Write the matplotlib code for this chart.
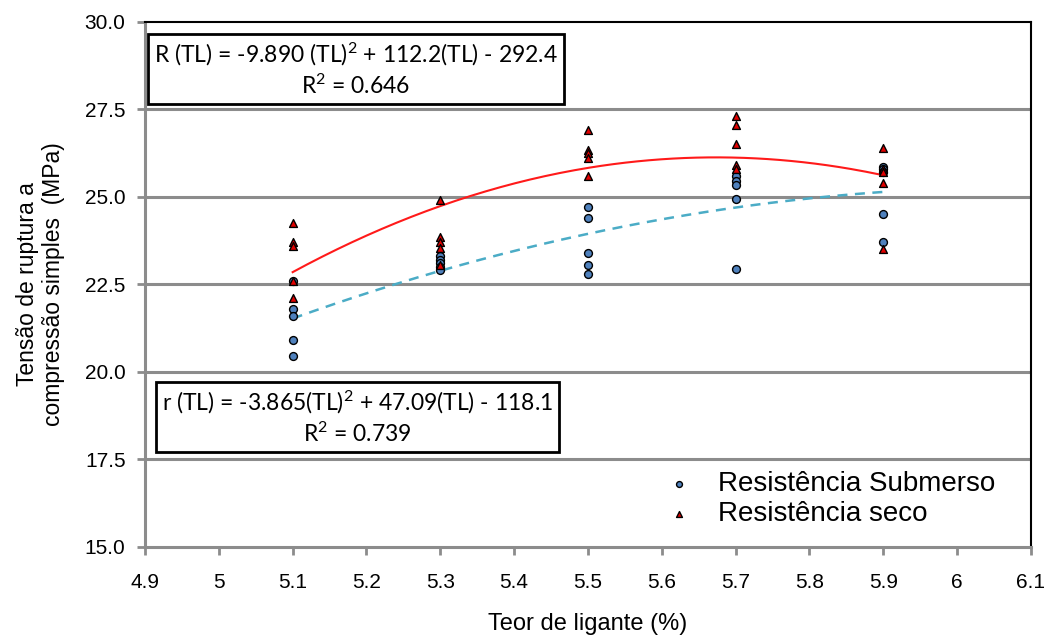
import numpy as np
import matplotlib
matplotlib.use("Agg")
import matplotlib.pyplot as plt

plt.rcParams['font.family'] = ['Liberation Sans', 'DejaVu Sans']
plt.rcParams['mathtext.fontset'] = 'custom'
plt.rcParams['mathtext.rm'] = 'Lato'
plt.rcParams['mathtext.it'] = 'Lato:italic'
plt.rcParams['mathtext.bf'] = 'Lato:bold'

# Data: binder content (%) and strength (MPa)
tl_sub = [5.1]*5 + [5.3]*5 + [5.5]*5 + [5.7]*5 + [5.9]*5
r_sub = [22.6, 21.8, 21.6, 20.9, 20.45,
         23.3, 23.2, 23.1, 23.0, 22.9,
         24.7, 24.4, 23.4, 23.05, 22.8,
         25.6, 25.45, 25.35, 24.95, 22.95,
         25.85, 25.8, 25.7, 24.5, 23.7]
tl_seco = [5.1]*5 + [5.3]*5 + [5.5]*5 + [5.7]*5 + [5.9]*5
r_seco = [24.25, 23.7, 23.6, 22.6, 22.1,
          24.9, 23.85, 23.7, 23.55, 23.05,
          26.9, 26.35, 26.25, 26.1, 25.6,
          27.3, 27.05, 26.5, 25.9, 25.8,
          26.4, 25.8, 25.7, 25.4, 23.5]

xticks = [4.9, 5.0, 5.1, 5.2, 5.3, 5.4, 5.5, 5.6, 5.7, 5.8, 5.9, 6.0, 6.1]
xticklabels = ['4.9', '5', '5.1', '5.2', '5.3', '5.4', '5.5', '5.6', '5.7', '5.8', '5.9', '6', '6.1']
yticks = [15.0, 17.5, 20.0, 22.5, 25.0, 27.5, 30.0]

eq_seco = "R (TL) = -9.890 (TL)$^{\\mathrm{2}}$ + 112.2(TL) - 292.4\nR$^{\\mathrm{2}}$ = 0.646"
eq_sub = "r (TL) = -3.865(TL)$^{\\mathrm{2}}$ + 47.09(TL) - 118.1\nR$^{\\mathrm{2}}$ = 0.739"

fig = plt.figure(figsize=(10.44, 6.37), dpi=100)
ax = fig.add_axes([0.1389, 0.1413, 0.8486, 0.8242])

grid_c = '#8c8c8c'
for y in yticks[1:-1]:
    ax.axhline(y, color=grid_c, lw=2.2, zorder=1)

# trendlines (quadratic fits)
xs = np.linspace(5.1, 5.9, 200)
p_seco = np.polyfit(tl_seco, r_seco, 2)
p_sub = np.polyfit(tl_sub, r_sub, 2)
ax.plot(xs, np.polyval(p_seco, xs), color='#ff1a1a', lw=1.5, zorder=2)
ax.plot(xs, np.polyval(p_sub, xs), color='#4bacc6', lw=1.8, ls=(0, (4, 3)), zorder=2)

ax.scatter(tl_sub, r_sub, s=32, marker='o', facecolor='#4f81bd', edgecolor='black',
           linewidth=1.0, zorder=3, label='Resistência Submerso')
ax.scatter(tl_seco, r_seco, s=32, marker='^', facecolor='#e00000', edgecolor='black',
           linewidth=1.0, zorder=4, label='Resistência seco')

ax.set_xlim(4.9, 6.1)
ax.set_ylim(15, 30)
ax.set_xticks(xticks)
ax.set_xticklabels(xticklabels, fontsize=15)
ax.set_yticks(yticks)
ax.set_yticklabels([f'{v:.1f}' for v in yticks], fontsize=15)
ax.tick_params(axis='both', color=grid_c, width=2, length=6, direction='out')
ax.tick_params(axis='x', pad=13)
ax.tick_params(axis='y', pad=8)

for s in ['left', 'bottom']:
    ax.spines[s].set_color(grid_c)
    ax.spines[s].set_linewidth(2.2)
for s in ['top', 'right']:
    ax.spines[s].set_color('black')
    ax.spines[s].set_linewidth(1.5)

ax.set_xlabel('Teor de ligante (%)', fontsize=17, labelpad=15)
ax.set_ylabel('Tensão de ruptura a\ncompressão simples  (MPa)', fontsize=16.5, labelpad=14)

box = dict(boxstyle='square,pad=0.25', facecolor='white', edgecolor='black', lw=2)
ax.text(0.238, 0.9095, eq_seco, transform=ax.transAxes, ha='center', va='center',
        fontsize=16.5, family=['Lato', 'DejaVu Sans'], bbox=box, linespacing=1.3, zorder=5)
ax.text(0.240, 0.2467, eq_sub, transform=ax.transAxes, ha='center', va='center',
        fontsize=16.5, family=['Lato', 'DejaVu Sans'], bbox=box, linespacing=1.3, zorder=5)

leg = ax.legend(loc='upper left', bbox_to_anchor=(0.587, 0.145), frameon=False,
                fontsize=20, markerscale=0.75, handlelength=1.0, handletextpad=0.9,
                labelspacing=0.15, borderaxespad=0, borderpad=0)

fig.savefig('out.png', dpi=100)
